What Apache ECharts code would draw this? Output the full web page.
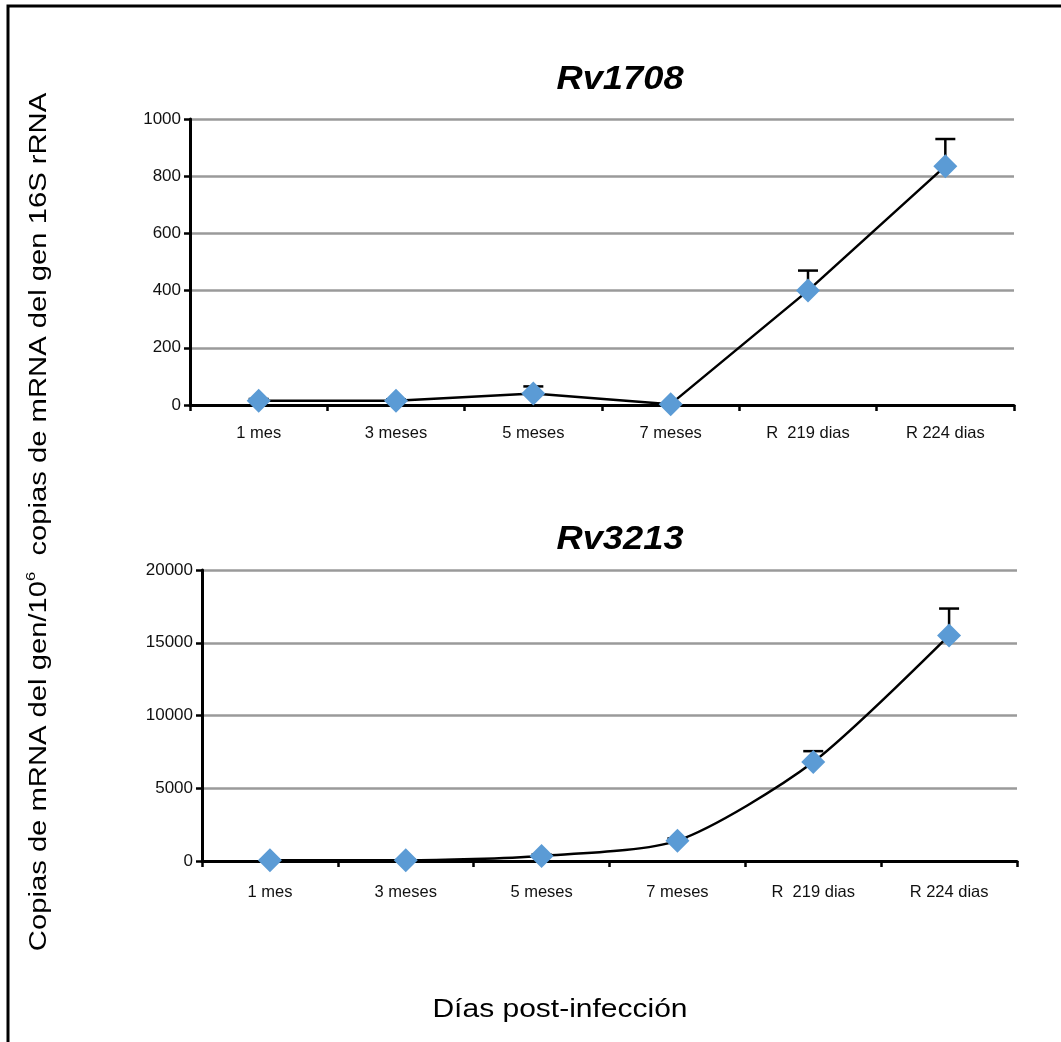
<!DOCTYPE html>
<html>
<head>
<meta charset="utf-8">
<script src="https://cdn.jsdelivr.net/npm/echarts@6/dist/echarts.min.js"></script>
<style>
  html, body { margin: 0; padding: 0; background: #fff; }
  #chart { width: 1061px; height: 1042px; }
</style>
</head>
<body>
<div id="chart"></div>
<script>
// categorias (eje x)
var categorias = ['1 mes', '3 meses', '5 meses', '7 meses', 'R  219 dias', 'R 224 dias'];
// Rv1708
var rv1708 = [15, 15, 40, 3, 400, 835];
var rv1708Err = [6, 5, 25, 2, 70, 95];
// Rv3213
var rv3213 = [50, 50, 350, 1400, 6800, 15500];
var rv3213Err = [40, 40, 100, 150, 750, 1850];

var azul = '#5b9bd5';
var fuente = 'Liberation Sans, Arial, sans-serif';

// barras de error (solo hacia arriba)
var errorBar = function (vals, errs) {
    return function (params, api) {
        var i = api.value(0);
        var base = api.coord([i, vals[i]]);
        var top = api.coord([i, vals[i] + errs[i]]);
        var w = 10;
        return {
            type: 'group',
            children: [
                {type: 'line', shape: {x1: base[0], y1: base[1], x2: top[0], y2: top[1]}, style: {stroke: '#000', lineWidth: 2.5}},
                {type: 'line', shape: {x1: top[0] - w, y1: top[1], x2: top[0] + w, y2: top[1]}, style: {stroke: '#000', lineWidth: 2.5}}
            ]
        };
    };
};

var ejeX = function (gi, margin) {
    return {
        type: 'category',
        gridIndex: gi,
        data: categorias,
        axisLine: {lineStyle: {color: '#000', width: 3}},
        axisTick: {show: true, length: 6, lineStyle: {color: '#000', width: 2.5}},
        axisLabel: {color: '#111', fontSize: 16.5, fontFamily: fuente, margin: margin}
    };
};
var ejeY = function (gi, max, interval) {
    return {
        type: 'value',
        gridIndex: gi,
        min: 0,
        max: max,
        interval: interval,
        axisLine: {show: true, lineStyle: {color: '#000', width: 3}},
        axisTick: {show: true, length: 6, lineStyle: {color: '#000', width: 2.5}},
        axisLabel: {color: '#111', fontSize: 17, fontFamily: fuente, margin: 9,
            formatter: function (v) { return String(v); }},
        splitLine: {lineStyle: {color: '#9a9a9a', width: 2.5}}
    };
};

var titulo = function (texto, y) {
    return {
        type: 'text', x: 620, y: y, scaleX: 1.1,
        style: {
            text: texto,
            font: 'italic bold 33px ' + fuente,
            fill: '#000', align: 'center', verticalAlign: 'middle'
        }
    };
};

var myChart = echarts.init(document.getElementById('chart'));
myChart.setOption({
    backgroundColor: '#fff',
    animation: false,
    grid: [
        {left: 190, top: 119, right: 47, height: 286},
        {left: 202, top: 570, right: 44, height: 291}
    ],
    xAxis: [ejeX(0, 20), ejeX(1, 23)],
    yAxis: [ejeY(0, 1000, 200), ejeY(1, 20000, 5000)],
    series: [
        {
            type: 'custom', xAxisIndex: 0, yAxisIndex: 0, z: 1,
            renderItem: errorBar(rv1708, rv1708Err),
            data: categorias.map(function (c, i) { return [i]; })
        },
        {
            type: 'line', xAxisIndex: 0, yAxisIndex: 0, z: 3,
            data: rv1708,
            symbol: 'diamond', symbolSize: 24,
            lineStyle: {color: '#000', width: 2.5},
            itemStyle: {color: azul}
        },
        {
            type: 'custom', xAxisIndex: 1, yAxisIndex: 1, z: 1,
            renderItem: errorBar(rv3213, rv3213Err),
            data: categorias.map(function (c, i) { return [i]; })
        },
        {
            type: 'line', xAxisIndex: 1, yAxisIndex: 1, z: 3,
            data: rv3213, smooth: 0.25,
            symbol: 'diamond', symbolSize: 24,
            lineStyle: {color: '#000', width: 2.5},
            itemStyle: {color: azul}
        }
    ],
    graphic: [
        // marco: solo arriba e izquierda
        {
            type: 'polyline', z: 100, silent: true,
            shape: {points: [[8, 1042], [8, 6], [1061, 6]]},
            style: {fill: 'none', stroke: '#000', lineWidth: 3}
        },
        titulo('Rv1708', 80),
        titulo('Rv3213', 540),
        {
            type: 'text', x: 40, y: 522, rotation: Math.PI / 2, scaleX: 1.27,
            style: {
                text: '{n|Copias de mRNA del gen/10}{sup|6}{n|  copias de mRNA del gen 16S rRNA}',
                font: '23px ' + fuente,
                fill: '#000',
                align: 'center',
                verticalAlign: 'middle',
                rich: {
                    n: {fontSize: 23, fontFamily: fuente, lineHeight: 30, verticalAlign: 'middle'},
                    sup: {fontSize: 13, fontFamily: fuente, lineHeight: 30, verticalAlign: 'top'}
                }
            }
        },
        {
            type: 'text', x: 560, y: 1010, scaleX: 1.2,
            style: {
                text: 'Días post-infección',
                font: '25px ' + fuente,
                fill: '#000',
                align: 'center',
                verticalAlign: 'middle'
            }
        }
    ]
});
</script>
</body>
</html>
